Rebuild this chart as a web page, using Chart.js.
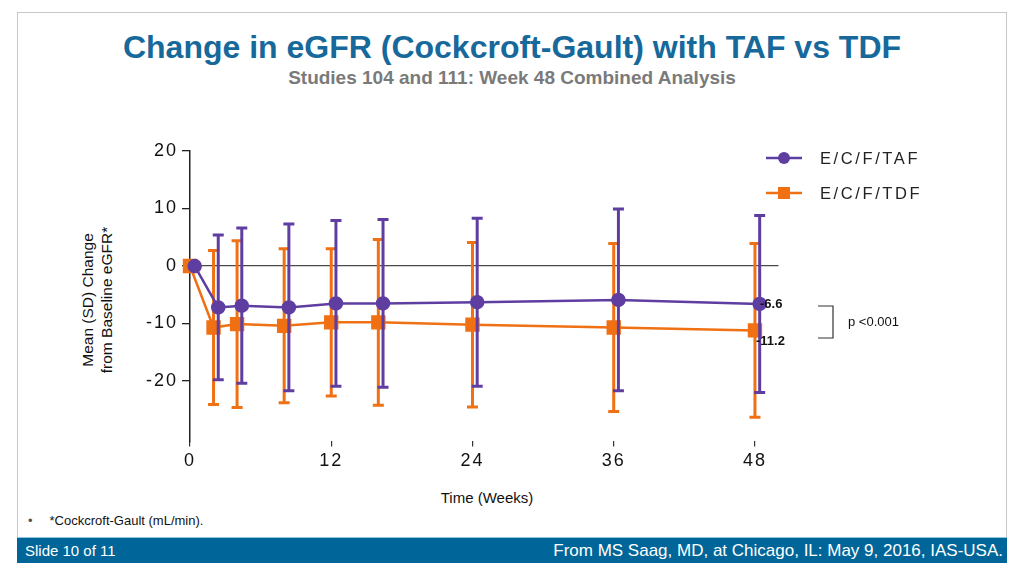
<!DOCTYPE html>
<html>
<head>
<meta charset="utf-8">
<script src="https://cdn.jsdelivr.net/npm/chart.js@4/dist/chart.umd.min.js"></script>
<style>
  body { margin: 0; width: 1024px; height: 576px; background: #fff; overflow: hidden; position: relative; font-family: "Liberation Sans", Arial, sans-serif; }
  .frame { position: absolute; left: 17px; top: 12px; width: 988px; height: 549px; border: 1px solid #c8c8c8; }
  .narrow { font-family: "Liberation Sans Narrow", "Arial Narrow", "Liberation Sans", sans-serif; }
  #title { position: absolute; left: 0; width: 1024px; top: 28px; text-align: center; font-weight: bold; font-size: 32px; color: #17699b; line-height: 38px; }
  #subtitle { position: absolute; left: 0; width: 1024px; top: 67px; text-align: center; font-weight: bold; font-size: 19px; color: #7a7a7a; line-height: 22px; }
  #ytitle { position: absolute; left: 97px; top: 300px; transform: translate(-50%, -50%) rotate(-90deg); white-space: nowrap; text-align: center; font-size: 15.5px; line-height: 19px; color: #111; }
  #xtitle { position: absolute; left: 0; width: 974px; top: 489px; text-align: center; font-size: 15px; color: #111; }
  #note { position: absolute; left: 28px; top: 513px; font-size: 13px; color: #111; }
  #note span { margin-right: 17px; color: #555; }
  #footer { position: absolute; left: 17px; top: 537px; width: 990px; height: 25px; background: #006699; border-top: 1px solid #8fc3de; color: #fff; }
  #footer .l { position: absolute; left: 8px; top: 4px; font-size: 15px; }
  #footer .r { position: absolute; right: 4px; top: 3px; font-size: 17px; }
  canvas { position: absolute; left: 0; top: 0; }
</style>
</head>
<body>
<div class="frame"></div>
<div id="title" class="narrow">Change in eGFR (Cockcroft-Gault) with TAF vs TDF</div>
<div id="subtitle" class="narrow">Studies 104 and 111: Week 48 Combined Analysis</div>
<div id="ytitle">Mean (SD) Change<br>from Baseline eGFR*</div>
<div id="xtitle">Time (Weeks)</div>
<div id="note" class="narrow"><span>&#8226;</span>*Cockcroft-Gault (mL/min).</div>
<div id="footer" class="narrow"><span class="l">Slide 10 of 11</span><span class="r">From MS Saag, MD, at Chicago, IL: May 9, 2016, IAS-USA.</span></div>
<canvas id="egfrChart" width="1024" height="576"></canvas>
<script>
// data
const weeks = [0, 2, 4, 8, 12, 16, 24, 36, 48];
const tafMean = [0, -7.2, -6.9, -7.2, -6.5, -6.5, -6.3, -5.9, -6.6];
const tafSD = [0, 12.6, 13.5, 14.5, 14.4, 14.6, 14.6, 15.8, 15.4];
const tdfMean = [0, -10.7, -10.1, -10.4, -9.8, -9.8, -10.2, -10.7, -11.2];
const tdfSD = [0, 13.4, 14.5, 13.4, 12.8, 14.4, 14.3, 14.6, 15.1];
const seriesLabels = ['E/C/F/TAF', 'E/C/F/TDF'];
const xTicks = [0, 12, 24, 36, 48];
const yTicks = [20, 10, 0, -10, -20];
const pValueText = 'p <0.001';

const PURPLE = '#5f3ea1';
const ORANGE = '#f07014';

// TAF points are nudged slightly right so the bars don't overlap
function makePoints(means, sds, nudge) {
    return weeks.map((w, i) => ({ x: w + nudge, y: means[i], sd: sds[i] }));
}

const errorBars = {
    id: 'errorBars',
    afterDatasetDraw(chart, args) {
        const ctx = chart.ctx;
        const ds = chart.data.datasets[args.index];
        const yScale = chart.scales.y;
        ctx.save();
        ctx.letterSpacing = '0px';
        ctx.strokeStyle = ds.borderColor;
        ctx.lineWidth = 3;
        args.meta.data.forEach((pt, i) => {
            const raw = ds.data[i];
            if (!raw.sd) return;
            const top = yScale.getPixelForValue(raw.y + raw.sd);
            const bot = yScale.getPixelForValue(raw.y - raw.sd);
            ctx.beginPath();
            ctx.moveTo(pt.x, top);
            ctx.lineTo(pt.x, bot);
            ctx.moveTo(pt.x - 5.5, top);
            ctx.lineTo(pt.x + 5.5, top);
            ctx.moveTo(pt.x - 5.5, bot);
            ctx.lineTo(pt.x + 5.5, bot);
            ctx.stroke();
        });
        ctx.restore();
    }
};

// wider tick lettering like the original figure
const tickSpacing = {
    id: 'tickSpacing',
    beforeDraw(chart) { chart.ctx.letterSpacing = '2px'; },
    beforeDatasetsDraw(chart) { chart.ctx.letterSpacing = '0px'; }
};

const extras = {
    id: 'extras',
    afterDraw(chart) {
        const ctx = chart.ctx;
        const xs = chart.scales.x, ys = chart.scales.y;
        ctx.save();
        ctx.letterSpacing = '0px';

        // end-of-study values
        const last = weeks.length - 1;
        const x48 = xs.getPixelForValue(weeks[last]);
        ctx.fillStyle = '#111';
        ctx.font = 'bold 13px "Liberation Sans", Arial, sans-serif';
        ctx.textBaseline = 'middle';
        ctx.textAlign = 'left';
        ctx.fillText(tafMean[last].toFixed(1), x48 + 5, ys.getPixelForValue(tafMean[last]));
        ctx.fillText(tdfMean[last].toFixed(1), x48 + 1, ys.getPixelForValue(tdfMean[last]) + 11);

        // bracket + p value
        ctx.strokeStyle = '#333';
        ctx.lineWidth = 1.2;
        ctx.beginPath();
        ctx.moveTo(818, 306);
        ctx.lineTo(833, 306);
        ctx.lineTo(833, 338);
        ctx.lineTo(818, 338);
        ctx.stroke();
        ctx.font = '13px "Liberation Sans", Arial, sans-serif';
        ctx.fillText(pValueText, 848, 322);

        // legend
        chart.data.datasets.forEach((ds, i) => {
            const y = 158 + i * 35;
            ctx.strokeStyle = ds.borderColor;
            ctx.fillStyle = ds.borderColor;
            ctx.lineWidth = 2.5;
            ctx.beginPath();
            ctx.moveTo(766, y);
            ctx.lineTo(802, y);
            ctx.stroke();
            if (ds.pointStyle === 'circle') {
                ctx.beginPath();
                ctx.arc(784, y, 6, 0, Math.PI * 2);
                ctx.fill();
            } else {
                ctx.fillRect(778, y - 6, 12, 12);
            }
            ctx.fillStyle = '#222';
            ctx.font = '16.5px "Liberation Sans", Arial, sans-serif';
            ctx.letterSpacing = '2.6px';
            ctx.fillText(ds.label, 820, y + 1);
            ctx.letterSpacing = '0px';
        });
        ctx.restore();
    }
};

const tickFont = { family: '"Liberation Sans", Arial, sans-serif', size: 18 };

new Chart(document.getElementById('egfrChart'), {
    type: 'line',
    data: {
        datasets: [
            {
                label: seriesLabels[0],
                data: makePoints(tafMean, tafSD, 0.4),
                borderColor: PURPLE,
                backgroundColor: PURPLE,
                borderWidth: 2.5,
                pointStyle: 'circle',
                pointRadius: 6,
                pointHoverRadius: 6,
                tension: 0,
                clip: false
            },
            {
                label: seriesLabels[1],
                data: makePoints(tdfMean, tdfSD, 0),
                borderColor: ORANGE,
                backgroundColor: ORANGE,
                borderWidth: 2.5,
                pointStyle: 'rect',
                pointRadius: 8.4,
                pointHoverRadius: 8.4,
                tension: 0,
                clip: false
            }
        ]
    },
    options: {
        responsive: false,
        animation: false,
        layout: { padding: { left: 130, top: 151, right: 245.5, bottom: 94.6 } },
        plugins: {
            legend: { display: false },
            tooltip: { enabled: false }
        },
        scales: {
            x: {
                type: 'linear',
                min: 0,
                max: 50,
                afterFit: s => { s.height = 40; },
                afterBuildTicks: s => { s.ticks = xTicks.map(v => ({ value: v })); },
                border: { display: false },
                grid: { drawOnChartArea: false, drawTicks: true, tickLength: 5, tickColor: '#333', lineWidth: 1.2 },
                ticks: { color: '#111', font: tickFont, padding: 4, maxRotation: 0 }
            },
            y: {
                min: -30.5,
                max: 20,
                afterFit: s => { s.width = 60; },
                afterBuildTicks: s => { s.ticks = yTicks.map(v => ({ value: v })); },
                border: { display: true, color: '#222', width: 1.5 },
                grid: {
                    color: c => (c.tick && c.tick.value === 0) ? '#4a4a4a' : 'rgba(0,0,0,0)',
                    lineWidth: 1.3,
                    tickLength: 8,
                    tickColor: '#222'
                },
                ticks: { color: '#111', font: tickFont, padding: 4 }
            }
        }
    },
    plugins: [tickSpacing, errorBars, extras]
});
</script>
</body>
</html>
